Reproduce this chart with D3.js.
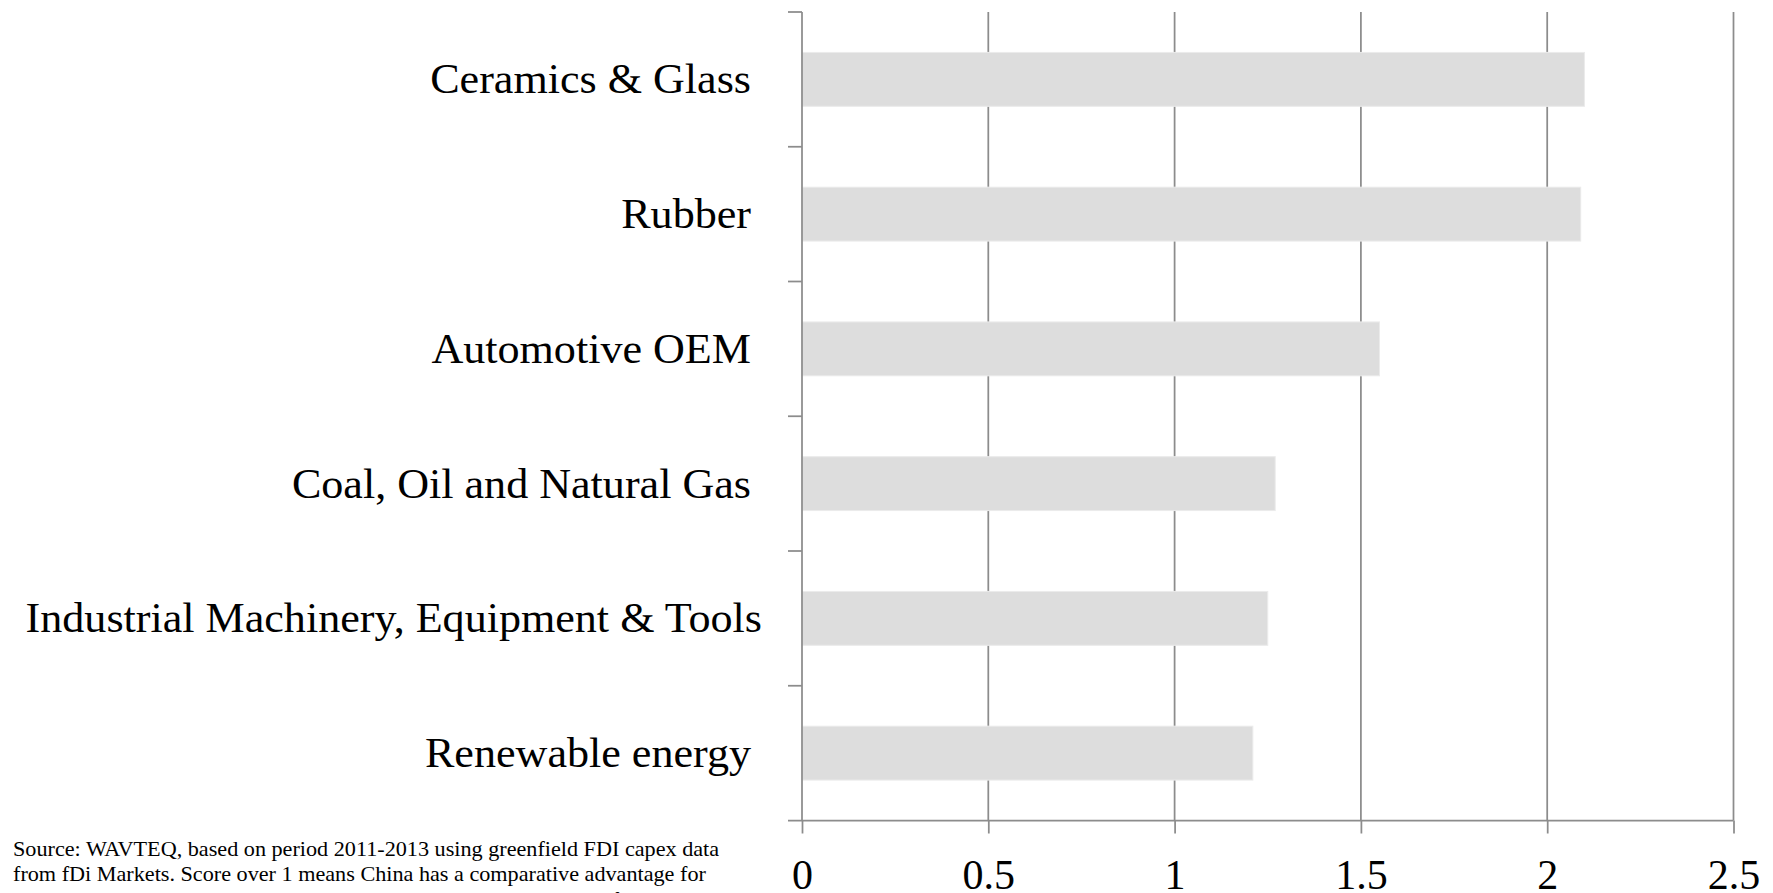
<!DOCTYPE html>
<html>
<head>
<meta charset="utf-8">
<script src="https://cdn.jsdelivr.net/npm/d3@7"></script>
<style>
  body { margin: 0; background: #fff; }
  text { font-family: "Liberation Serif", "Times New Roman", serif; fill: #000; white-space: pre; }
</style>
</head>
<body>
<script>
// chart data
const categories = [
  "Ceramics & Glass ",
  "Rubber ",
  "Automotive OEM ",
  "Coal, Oil and Natural Gas ",
  "Industrial Machinery, Equipment & Tools",
  "Renewable energy "
];
const scores = [2.1, 2.09, 1.55, 1.27, 1.25, 1.21];
const xTicks = [0, 0.5, 1, 1.5, 2, 2.5];
const sourceLines = [
  "Source: WAVTEQ, based on period 2011-2013 using greenfield FDI capex data",
  "from fDi Markets. Score over 1 means China has a comparative advantage for",
  "outward FDI in the sector and the US has a comparative advantage for inward FDI"
];

// page size
let width = 1773,
  height = 893;

let margin = { top: 12, right: 40, bottom: 72.5, left: 802 };

let svg = d3.select("body")
  .append("svg")
  .attr("width", width)
  .attr("height", height);

let x = d3.scaleLinear()
  .domain([0, 2.5])
  .range([margin.left, 1733.5]);

let y = d3.scaleBand()
  .domain(categories)
  .range([margin.top, height - margin.bottom])
  .paddingInner(0.6)
  .paddingOuter(0.3);

// band edges for the category ticks
let yEdge = d3.scaleBand()
  .domain(categories)
  .range([margin.top, height - margin.bottom]);

let gridColor = "#8c8c8c";

// vertical gridlines
svg.append("g")
  .selectAll("line")
  .data(xTicks.slice(1))
  .join("line")
  .attr("x1", d => x(d))
  .attr("x2", d => x(d))
  .attr("y1", margin.top)
  .attr("y2", height - margin.bottom)
  .attr("stroke", gridColor)
  .attr("stroke-width", 1.75);

// bars
svg.append("g")
  .selectAll("rect")
  .data(categories)
  .join("rect")
  .attr("x", x(0))
  .attr("y", d => y(d))
  .attr("width", (d, i) => x(scores[i]) - x(0))
  .attr("height", y.bandwidth())
  .attr("fill", "#dddddd")
  .attr("stroke", "#ebebeb")
  .attr("stroke-width", 1);

// bottom axis
let xAxis = svg.append("g")
  .attr("transform", `translate(0,${height - margin.bottom})`)
  .call(d3.axisBottom(x)
    .tickValues(xTicks)
    .tickSize(13)
    .tickSizeOuter(0)
    .tickFormat(d3.format("")));

xAxis.select(".domain")
  .attr("stroke", gridColor)
  .attr("stroke-width", 1.75)
  .attr("d", `M${x(0) - 14},0H${x(2.5)}`);

xAxis.selectAll(".tick line")
  .attr("stroke", gridColor)
  .attr("stroke-width", 1.75);

xAxis.selectAll(".tick text")
  .attr("y", 68)
  .attr("dy", null)
  .attr("font-size", 42)
  .attr("font-family", "Liberation Serif");

// left axis
let yAxis = svg.append("g");

yAxis.append("line")
  .attr("x1", x(0))
  .attr("x2", x(0))
  .attr("y1", margin.top)
  .attr("y2", height - margin.bottom)
  .attr("stroke", gridColor)
  .attr("stroke-width", 1.75);

yAxis.selectAll("line.edge")
  .data(categories)
  .join("line")
  .attr("class", "edge")
  .attr("x1", x(0) - 14)
  .attr("x2", x(0))
  .attr("y1", d => yEdge(d))
  .attr("y2", d => yEdge(d))
  .attr("stroke", gridColor)
  .attr("stroke-width", 1.75);

// category labels, stretched a little to the wider original face
yAxis.selectAll("text")
  .data(categories)
  .join("text")
  .attr("transform", d => `translate(762,${y(d) + y.bandwidth() / 2 + 14}) scale(1.05,1)`)
  .attr("text-anchor", "end")
  .attr("font-size", 42)
  .text(d => d);

// source note
svg.append("g")
  .attr("transform", "translate(13,0) scale(1.11,1)")
  .selectAll("text")
  .data(sourceLines)
  .join("text")
  .attr("x", 0)
  .attr("y", (d, i) => 856 + i * 25.5)
  .attr("font-size", 20)
  .text(d => d);
</script>
</body>
</html>
